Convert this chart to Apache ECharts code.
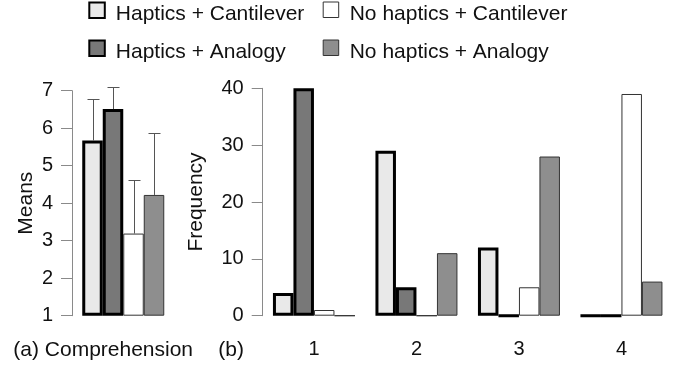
<!DOCTYPE html>
<html>
<head>
<meta charset="utf-8">
<script src="https://cdn.jsdelivr.net/npm/echarts@6/dist/echarts.min.js"></script>
<style>
html,body{margin:0;padding:0;background:#fff;}
#chart{width:680px;height:369px;}
</style>
</head>
<body>
<div id="chart"></div>
<script>
// ---- data ----
const seriesNames = ['Haptics + Cantilever', 'Haptics + Analogy', 'No haptics + Cantilever', 'No haptics + Analogy'];
const meansCategories = ['Comprehension'];
const meansValues = [5.67, 6.51, 3.19, 4.22];
const meansSD = [1.10, 0.58, 1.42, 1.65];
const meansTicks = [1, 2, 3, 4, 5, 6, 7];
const freqCategories = ['1', '2', '3', '4'];
const freqHC = [4, 29, 12, 0];
const freqHA = [40, 5, 0, 0];
const freqNC = [1, 0, 5, 39];
const freqNA = [0, 11, 28, 6];
const freqTicks = [0, 10, 20, 30, 40];

// ---- styles ----
const FONT = 'Liberation Sans';
const TXT = '#111';
const AXIS_C = '#8a8a8a';
const BAR_W = 20.5;
const fills = ['#e9e9e9', '#787878', '#ffffff', '#8e8e8e'];
const borderW = [3, 3, 1, 1];
const borderC = ['#000', '#000', '#333', '#333'];
const freqData = [freqHC, freqHA, freqNC, freqNA];

const chart = echarts.init(document.getElementById('chart'), null, {renderer: 'canvas'});

function yAxisCommon(ticks, name, nameGap) {
  return {
    type: 'value',
    min: ticks[0], max: ticks[ticks.length - 1], interval: ticks[1] - ticks[0],
    startValue: ticks[0],
    name: name, nameLocation: 'middle', nameGap: nameGap,
    nameTextStyle: {fontFamily: FONT, fontSize: 21, color: TXT},
    axisLine: {show: true, lineStyle: {color: AXIS_C, width: 1}},
    axisTick: {show: true, length: 11, lineStyle: {color: AXIS_C, width: 1}},
    axisLabel: {fontFamily: FONT, fontSize: 20, color: TXT, margin: 19},
    splitLine: {show: false}
  };
}

const series = [];
seriesNames.forEach((nm, i) => {
  const st = {color: fills[i], borderColor: borderC[i], borderWidth: borderW[i]};
  series.push({
    name: nm, type: 'bar', xAxisIndex: 0, yAxisIndex: 0,
    barWidth: BAR_W, barGap: '0%', itemStyle: st,
    data: [meansValues[i]], animation: false
  });
});
seriesNames.forEach((nm, i) => {
  const st = {color: fills[i], borderColor: borderC[i], borderWidth: borderW[i]};
  series.push({
    name: nm, type: 'bar', xAxisIndex: 1, yAxisIndex: 1,
    barWidth: BAR_W, barGap: '0%', itemStyle: st,
    data: freqData[i], animation: false
  });
});
series.push({
  type: 'custom', xAxisIndex: 0, yAxisIndex: 0, z: 5, animation: false,
  data: meansValues.map((m, k) => [0, m, m + meansSD[k], k]),
  renderItem: function (params, api) {
    const k = api.value(3);
    const base = api.coord([api.value(0), api.value(1)]);
    const top = api.coord([api.value(0), api.value(2)]);
    const x = Math.round(base[0] + (k - 1.5) * BAR_W) + 0.5;
    const yt = Math.round(top[1]) + 0.5;
    const st = {stroke: '#555', lineWidth: 1};
    return {type: 'group', children: [
      {type: 'line', shape: {x1: x, y1: base[1], x2: x, y2: yt}, style: st},
      {type: 'line', shape: {x1: x - 6, y1: yt, x2: x + 6, y2: yt}, style: st}
    ]};
  }
});

function legendItem(name, left, top, bw, bc) {
  return {
    data: [name], left: left, top: top, padding: 0, orient: 'horizontal',
    icon: 'rect', itemWidth: 15.5, itemHeight: 15.5, selectedMode: false,
    itemStyle: {borderWidth: bw, borderColor: bc},
    formatter: '{t|{name}}',
    textStyle: {
      fontFamily: FONT, fontSize: 21, color: TXT,
      rich: {t: {fontFamily: FONT, fontSize: 21, color: TXT, lineHeight: 29,
                 verticalAlign: 'bottom', padding: [0, 0, 0, 6]}}
    }
  };
}

const option = {
  backgroundColor: '#fff',
  animation: false,
  textStyle: {fontFamily: FONT},
  legend: [
    legendItem(seriesNames[0], 88.3, 1.5, 2, '#000'),
    legendItem(seriesNames[1], 88.3, 39.5, 2, '#000'),
    legendItem(seriesNames[2], 322.7, 1.5, 1, '#333'),
    legendItem(seriesNames[3], 322.7, 39.5, 1, '#333')
  ],
  grid: [
    {left: 72, top: 90.7, width: 102.5, height: 225},
    {left: 262.7, top: 88.3, width: 410, height: 227.4}
  ],
  xAxis: [
    {type: 'category', gridIndex: 0, data: meansCategories,
     axisLine: {show: false}, axisTick: {show: false}, axisLabel: {show: false}},
    {type: 'category', gridIndex: 1, data: freqCategories,
     axisLine: {show: false}, axisTick: {show: false},
     axisLabel: {fontFamily: FONT, fontSize: 20, color: TXT, margin: 24}}
  ],
  yAxis: [
    Object.assign(yAxisCommon(meansTicks, 'Means', 35), {gridIndex: 0}),
    Object.assign(yAxisCommon(freqTicks, 'Frequency', 56), {gridIndex: 1})
  ],
  graphic: [
    {type: 'text', left: 13.3, top: 340, style: {text: '(a) Comprehension', font: '21px "Liberation Sans"', fill: TXT}},
    {type: 'text', left: 218.3, top: 340, style: {text: '(b)', font: '21px "Liberation Sans"', fill: TXT}}
  ],
  series: series
};
chart.setOption(option);
</script>
</body>
</html>
